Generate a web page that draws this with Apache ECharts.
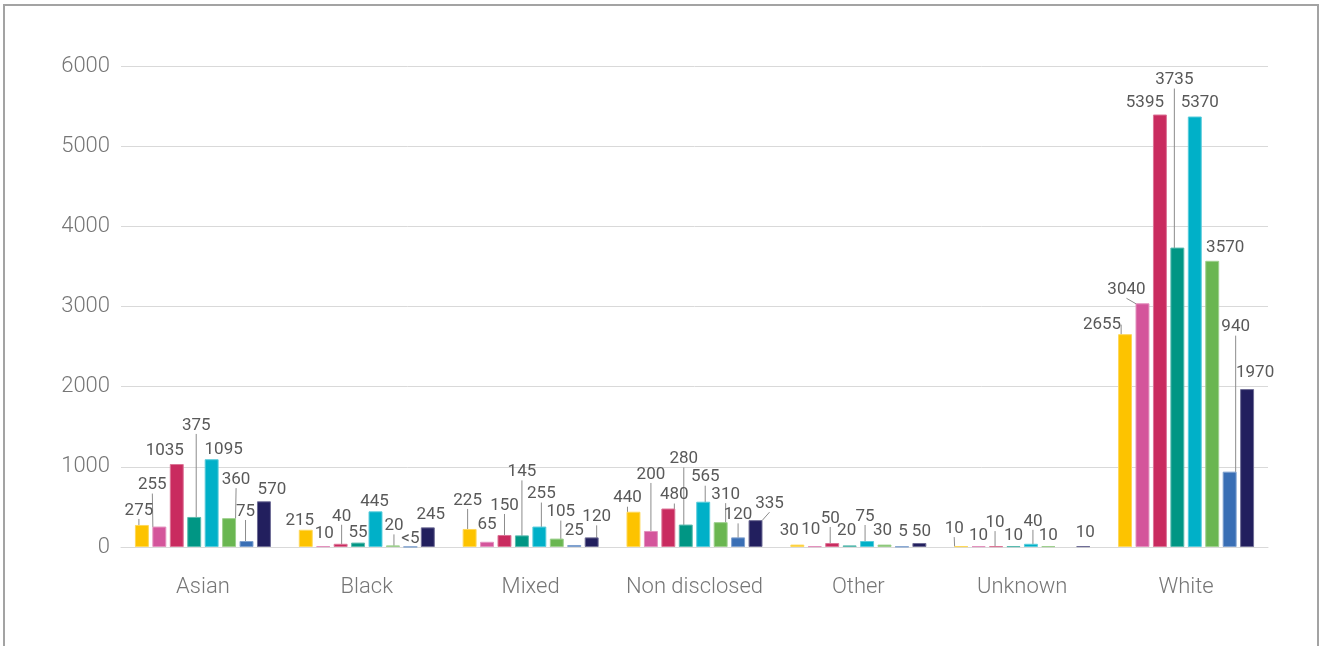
<!DOCTYPE html>
<html>
<head>
<meta charset="utf-8">
<script src="https://cdn.jsdelivr.net/npm/echarts@6/dist/echarts.min.js"></script>
<style>
  html, body { margin: 0; padding: 0; background: #ffffff; }
  #frame {
    position: absolute; left: 3px; top: 4px; width: 1312px; height: 700px;
    border: 2px solid #a3a3a3; pointer-events: none;
  }
  #chart { position: absolute; left: 0; top: 0; width: 1321px; height: 646px; }
</style>
</head>
<body>
<div id="chart"></div>
<div id="frame"></div>
<script>
// Categories along the x axis
const categories = ['Asian', 'Black', 'Mixed', 'Non disclosed', 'Other', 'Unknown', 'White'];

// One array per bar group (values per category); null = no bar
const seriesA = [275, 215, 225, 440, 30, 10, 2655];
const seriesB = [255, 10, 65, 200, 10, 10, 3040];
const seriesC = [1035, 40, 150, 480, 50, 10, 5395];
const seriesD = [375, 55, 145, 280, 20, 10, 3735];
const seriesE = [1095, 445, 255, 565, 75, 40, 5370];
const seriesF = [360, 20, 105, 310, 30, 10, 3570];
const seriesG = [75, 2, 25, 120, 5, null, 940];
const seriesH = [570, 245, 120, 335, 50, 10, 1970];

// Label text that differs from the plain number
const labelTextG = [null, '<5', null, null, null, null, null];

// Y axis ticks
const yTicks = [0, 1000, 2000, 3000, 4000, 5000, 6000];

const colors = ['#FDC300', '#D4559B', '#C92B5F', '#009684', '#00B0C8', '#6AB651', '#3A6FB5', '#221F5E'];

// Callout nudges [dx, dy] in px for each series label, per category
const labelNudge = [
  [[-3, -4], [-6, 1], [-2, -18], [-6, -3], [-8, -3], [-7, -7], [-23, 1]],
  [[-7, -31], [1, -2], [0, -7], [0, -46], [-4, -6], [0, 0], [-16, -3]],
  [[-12, -3], [1, -17], [0, -19], [6, -3], [-2, -14], [-1, -13], [-15, -1]],
  [[2, -81], [0, 1], [0, -53], [-2, -55], [-3, -4], [0, 0], [-3, -157]],
  [[12, 1], [-1, 1], [2, -22], [2, -14], [-2, -14], [2, -12], [5, -3]],
  [[7, -28], [1, -9], [4, -16], [5, -17], [-2, -3], [0, 0], [13, -3]],
  [[-1, -19], [0, 3], [0, -4], [0, -12], [1, -4], [0, 0], [6, -134]],
  [[8, -1], [3, -2], [5, -10], [14, -6], [2, -1], [2, -3], [8, -6]]
];

// Which callouts get a leader line (1 = yes), per series, per category
const leaderShown = [
  [1, 0, 1, 1, 0, 1, 1],
  [1, 0, 0, 1, 0, 0, 1],
  [0, 1, 1, 1, 1, 1, 0],
  [1, 0, 1, 1, 0, 0, 1],
  [0, 0, 1, 1, 1, 1, 0],
  [1, 1, 1, 1, 0, 0, 0],
  [1, 0, 0, 1, 0, 0, 1],
  [0, 0, 1, 1, 0, 0, 0]
];

const allSeries = [seriesA, seriesB, seriesC, seriesD, seriesE, seriesF, seriesG, seriesH];
const labelOverrides = [null, null, null, null, null, null, labelTextG, null];

// Slightly lighter tint for the bar outline
function tint(hex, k) {
  const n = parseInt(hex.slice(1), 16);
  const r = (n >> 16) & 255, g = (n >> 8) & 255, b = n & 255;
  const m = (c) => Math.round(c + (255 - c) * k);
  return 'rgb(' + m(r) + ',' + m(g) + ',' + m(b) + ')';
}

const chart = echarts.init(document.getElementById('chart'), null, { renderer: 'canvas' });

const series = allSeries.map((values, si) => ({
  type: 'bar',
  name: 'S' + (si + 1),
  data: values.map((v, ci) => ({
    value: v,
    labelLine: { show: !!leaderShown[si][ci] }
  })),
  barGap: '25%',
  barCategoryGap: '17%',
  itemStyle: { color: colors[si], borderColor: tint(colors[si], 0.35), borderWidth: 1 },
  label: {
    show: true,
    position: 'top',
    distance: 2,
    color: '#595959',
    fontFamily: 'Roboto',
    fontSize: 17,
    lineHeight: 17,
    formatter: (p) => {
      if (p.value == null) return '';
      const o = labelOverrides[si];
      return (o && o[p.dataIndex]) ? o[p.dataIndex] : String(p.value);
    }
  },
  labelLine: {
    lineStyle: { color: '#8c8c8c', width: 1 }
  },
  labelLayout: (p) => {
    const n = labelNudge[p.seriesIndex][p.dataIndex];
    return { dx: n[0], dy: n[1], hideOverlap: false };
  }
}));

chart.setOption({
  animation: false,
  backgroundColor: 'transparent',
  grid: { left: 121, right: 53, top: 66, bottom: 99, containLabel: false },
  xAxis: {
    type: 'category',
    data: categories,
    axisLine: { show: true, lineStyle: { color: '#d9d9d9', width: 1 } },
    axisTick: { show: false },
    axisLabel: {
      interval: 0,
      color: '#767676', fontFamily: 'Roboto', fontWeight: 300, fontSize: 22, margin: 29
    }
  },
  yAxis: {
    type: 'value',
    min: yTicks[0],
    max: yTicks[yTicks.length - 1],
    interval: yTicks[1] - yTicks[0],
    axisLine: { show: false },
    axisTick: { show: false },
    splitLine: { lineStyle: { color: '#d9d9d9', width: 1 } },
    axisLabel: {
      formatter: (v) => String(v),
      color: '#767676', fontFamily: 'Roboto', fontWeight: 300, fontSize: 22, margin: 11
    }
  },
  series: series
});
</script>
</body>
</html>
